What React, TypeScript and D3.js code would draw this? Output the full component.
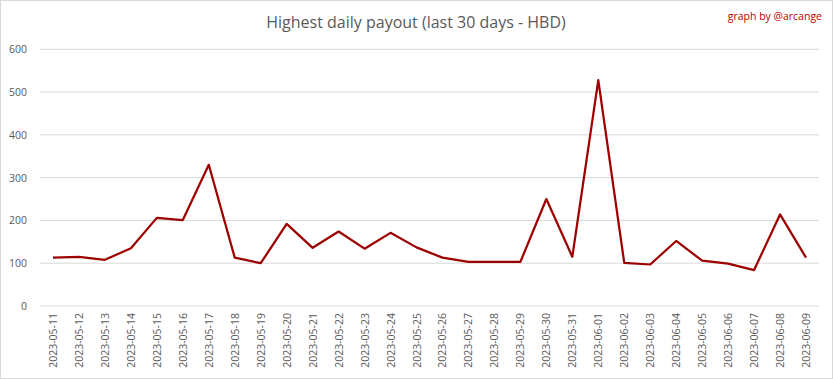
import React from "react";
import * as d3 from "d3";

const dates = [
  "2023-05-11","2023-05-12","2023-05-13","2023-05-14","2023-05-15","2023-05-16","2023-05-17","2023-05-18","2023-05-19","2023-05-20",
  "2023-05-21","2023-05-22","2023-05-23","2023-05-24","2023-05-25","2023-05-26","2023-05-27","2023-05-28","2023-05-29","2023-05-30",
  "2023-05-31","2023-06-01","2023-06-02","2023-06-03","2023-06-04","2023-06-05","2023-06-06","2023-06-07","2023-06-08","2023-06-09",
];
const payouts = [
  113, 115, 108, 135, 206, 201, 330, 113, 100, 192,
  136, 174, 134, 171, 137, 113, 103, 103, 103, 250,
  115, 528, 101, 97, 152, 106, 99, 84, 214, 113,
];
const yTicks = [0, 100, 200, 300, 400, 500, 600];
const title = "Highest daily payout (last 30 days - HBD)";
const credit = "graph by @arcange";

const W = 833, H = 379;
const left = 40, right = 819, top = 49.3, bottom = 306;
const font = "'Open Sans', 'Liberation Sans', sans-serif";

export default function App() {
  const x = d3.scaleBand<string>().domain(dates).range([left, right]);
  const y = d3.scaleLinear().domain([0, 600]).range([bottom, top]);
  const line = d3.line<number>()
    .x((_, i) => (x(dates[i]) as number) + x.bandwidth() / 2)
    .y((d) => y(d));
  return (
    <svg width={W} height={H} style={{ position: "absolute", left: 0, top: 0, background: "#fff" }}>
      <rect x={0.5} y={0.5} width={W - 1} height={H - 1} fill="#fff" stroke="#d9d9d9" />
      <text x={416} y={28} textAnchor="middle" fontFamily={font} fontSize={16} fill="#595959">{title}</text>
      <text x={822} y={20} textAnchor="end" fontFamily={font} fontSize={10.5} fill="#c00000">{credit}</text>
      {yTicks.map((t) => (
        <g key={t}>
          <line x1={left} x2={right} y1={y(t)} y2={y(t)} stroke="#d9d9d9" strokeWidth={1} />
          <text x={27} y={y(t) + 4} textAnchor="end" fontFamily={font} fontSize={10.5} fill="#595959">{t}</text>
        </g>
      ))}
      {dates.map((d) => {
        const cx = (x(d) as number) + x.bandwidth() / 2;
        return (
          <text key={d} transform={`translate(${cx + 4},313) rotate(-90)`} textAnchor="end" fontFamily={font} fontSize={10.5} fill="#595959">{d}</text>
        );
      })}
      <path d={line(payouts) || ""} fill="none" stroke="#9c0000" strokeWidth={2.25} strokeLinejoin="round" />
    </svg>
  );
}
